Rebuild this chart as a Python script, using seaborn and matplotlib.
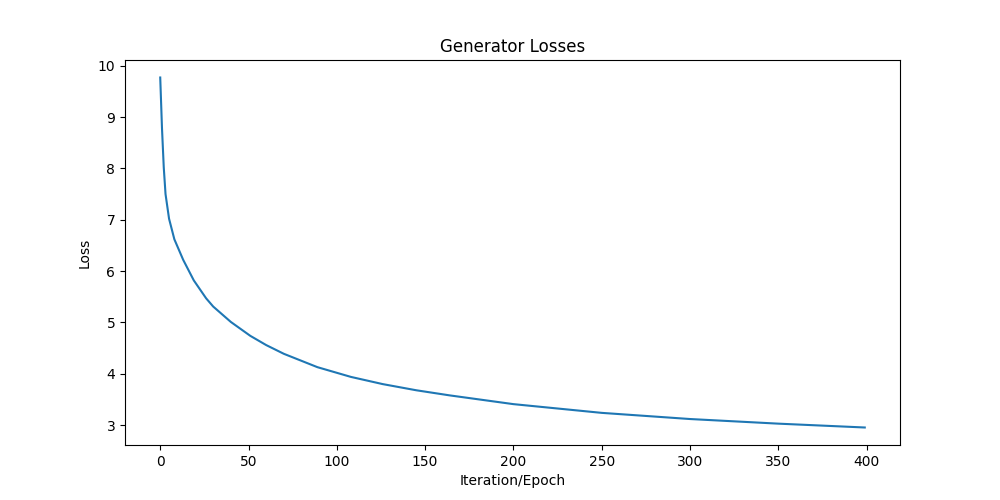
import seaborn as sns
import matplotlib.pyplot as plt
import pandas as pd

# loss values at selected iterations
iterations = [0, 1, 2, 3, 5, 8, 13, 19, 26, 30, 40, 51, 60, 70, 89, 100,
              108, 126, 145, 164, 200, 250, 300, 350, 399]
losses = [9.77, 8.78, 8.02, 7.50, 7.02, 6.62, 6.22, 5.82, 5.47, 5.31, 5.01, 4.74,
          4.56, 4.39, 4.13, 4.02, 3.94, 3.80, 3.68, 3.58, 3.41, 3.24, 3.12, 3.03, 2.955]

df = pd.DataFrame({'Iteration/Epoch': iterations, 'Loss': losses})

fig, ax = plt.subplots(figsize=(10, 5), dpi=100)
sns.lineplot(data=df, x='Iteration/Epoch', y='Loss', ax=ax, color='#1f77b4', linewidth=1.5)
ax.set_title('Generator Losses')
ax.set_xlabel('Iteration/Epoch')
ax.set_ylabel('Loss')
plt.savefig('out.png')
